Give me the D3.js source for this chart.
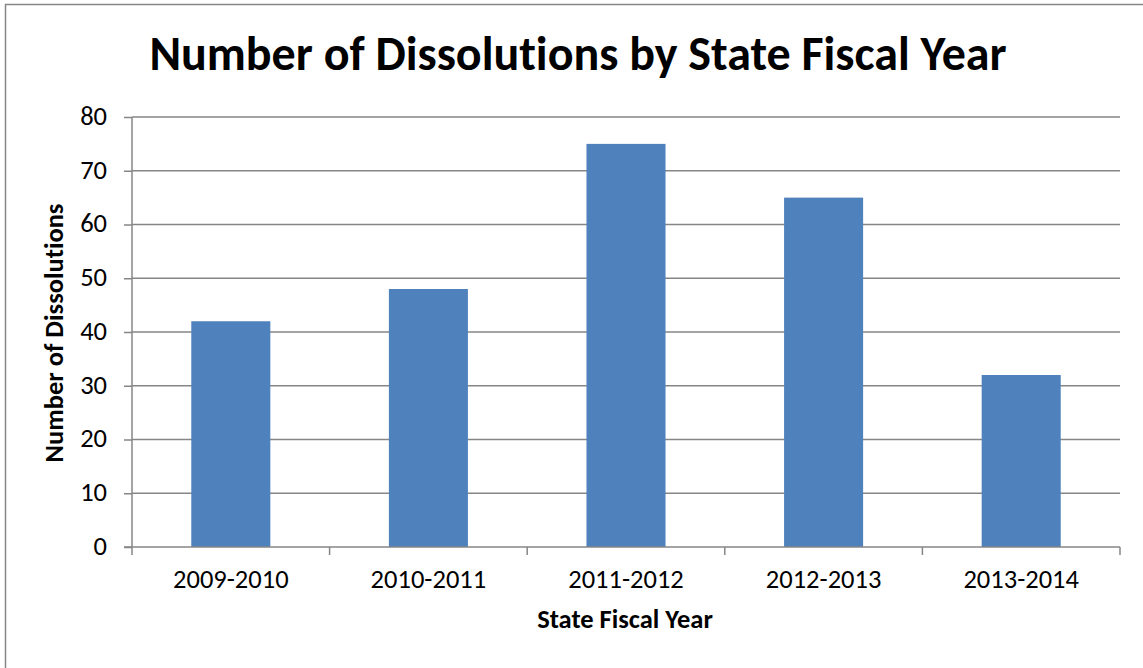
<!DOCTYPE html>
<html>
<head>
<meta charset="utf-8">
<script src="https://cdn.jsdelivr.net/npm/d3@7"></script>
<style>
	body { margin: 0; background: #ffffff; }
	svg { display: block; font-family: Carlito, Calibri, Lato, sans-serif; font-variant-ligatures: none; }
</style>
</head>
<body>
<div id="chart"></div>
<script>
	const categories = ['2009-2010', '2010-2011', '2011-2012', '2012-2013', '2013-2014'];
	const dissolutions = [42, 48, 75, 65, 32];
	const yTicks = [0, 10, 20, 30, 40, 50, 60, 70, 80];

	const width = 1143;
	const height = 668;
	const margin = { top: 117, right: 23, bottom: 121, left: 132 };

	const svg = d3.select('#chart')
		.append('svg')
		.attr('width', width)
		.attr('height', height);

	// outer chart border (only top/left fall inside the picture)
	svg.append('rect')
		.attr('x', 5.5)
		.attr('y', 4.5)
		.attr('width', width + 10)
		.attr('height', height + 10)
		.attr('fill', 'none')
		.attr('stroke', '#868686')
		.attr('stroke-width', 1.5);

	const x = d3.scaleBand()
		.domain(categories)
		.range([margin.left, width - margin.right])
		.paddingInner(0.6)
		.paddingOuter(0.3);

	const y = d3.scaleLinear()
		.domain([0, 80])
		.range([height - margin.bottom, margin.top]);

	// gridlines
	svg.append('g')
		.selectAll('line')
		.data(yTicks.filter(function(d){ return d > 0; }))
		.enter()
		.append('line')
		.attr('x1', margin.left)
		.attr('x2', width - margin.right)
		.attr('y1', function(d){ return y(d); })
		.attr('y2', function(d){ return y(d); })
		.attr('stroke', '#868686')
		.attr('stroke-width', 1.5);

	// bars
	svg.append('g')
		.selectAll('rect')
		.data(dissolutions)
		.enter()
		.append('rect')
		.attr('x', function(d, i){ return x(categories[i]); })
		.attr('y', function(d){ return y(d); })
		.attr('width', x.bandwidth())
		.attr('height', function(d){ return y(0) - y(d); })
		.attr('fill', '#4F81BD');

	// y axis
	const yAxis = svg.append('g')
		.attr('transform', 'translate(' + margin.left + ',0)')
		.call(d3.axisLeft(y).tickValues(yTicks).tickSize(8).tickPadding(17));
	yAxis.select('.domain').attr('stroke', '#868686').attr('stroke-width', 1.5).attr('d', 'M0,' + margin.top + 'V' + y(0));
	yAxis.selectAll('.tick line').attr('stroke', '#868686').attr('stroke-width', 1.5);
	yAxis.selectAll('.tick text')
		.attr('font-family', 'Carlito, Calibri, Lato, sans-serif')
		.attr('font-size', 26.5)
		.attr('dy', '0.28em')
		.attr('fill', '#000000');

	// x axis with ticks on category boundaries
	const xAxisG = svg.append('g');
	xAxisG.append('line')
		.attr('x1', margin.left - 8)
		.attr('x2', width - margin.right)
		.attr('y1', y(0))
		.attr('y2', y(0))
		.attr('stroke', '#868686')
		.attr('stroke-width', 1.5);
	const bounds = d3.range(categories.length + 1).map(function(i){ return margin.left + i * (width - margin.right - margin.left) / categories.length; });
	xAxisG.selectAll('.xtick')
		.data(bounds)
		.enter()
		.append('line')
		.attr('x1', function(d){ return d; })
		.attr('x2', function(d){ return d; })
		.attr('y1', y(0))
		.attr('y2', y(0) + 8)
		.attr('stroke', '#868686')
		.attr('stroke-width', 1.5);
	xAxisG.selectAll('.xlabel')
		.data(categories)
		.enter()
		.append('text')
		.attr('x', function(d){ return x(d) + x.bandwidth() / 2; })
		.attr('y', 588)
		.attr('text-anchor', 'middle')
		.attr('font-size', 26.5)
		.text(function(d){ return d; });

	// titles
	svg.append('text')
		.attr('x', 578)
		.attr('y', 70)
		.attr('text-anchor', 'middle')
		.attr('font-size', 48)
		.attr('font-weight', 'bold')
		.text('Number of Dissolutions by State Fiscal Year');

	svg.append('text')
		.attr('x', 625)
		.attr('y', 628)
		.attr('text-anchor', 'middle')
		.attr('font-size', 26.5)
		.attr('font-weight', 'bold')
		.text('State Fiscal Year');

	svg.append('text')
		.attr('transform', 'translate(63,333) rotate(-90)')
		.attr('text-anchor', 'middle')
		.attr('font-size', 26.5)
		.attr('font-weight', 'bold')
		.text('Number of Dissolutions');
</script>
</body>
</html>
